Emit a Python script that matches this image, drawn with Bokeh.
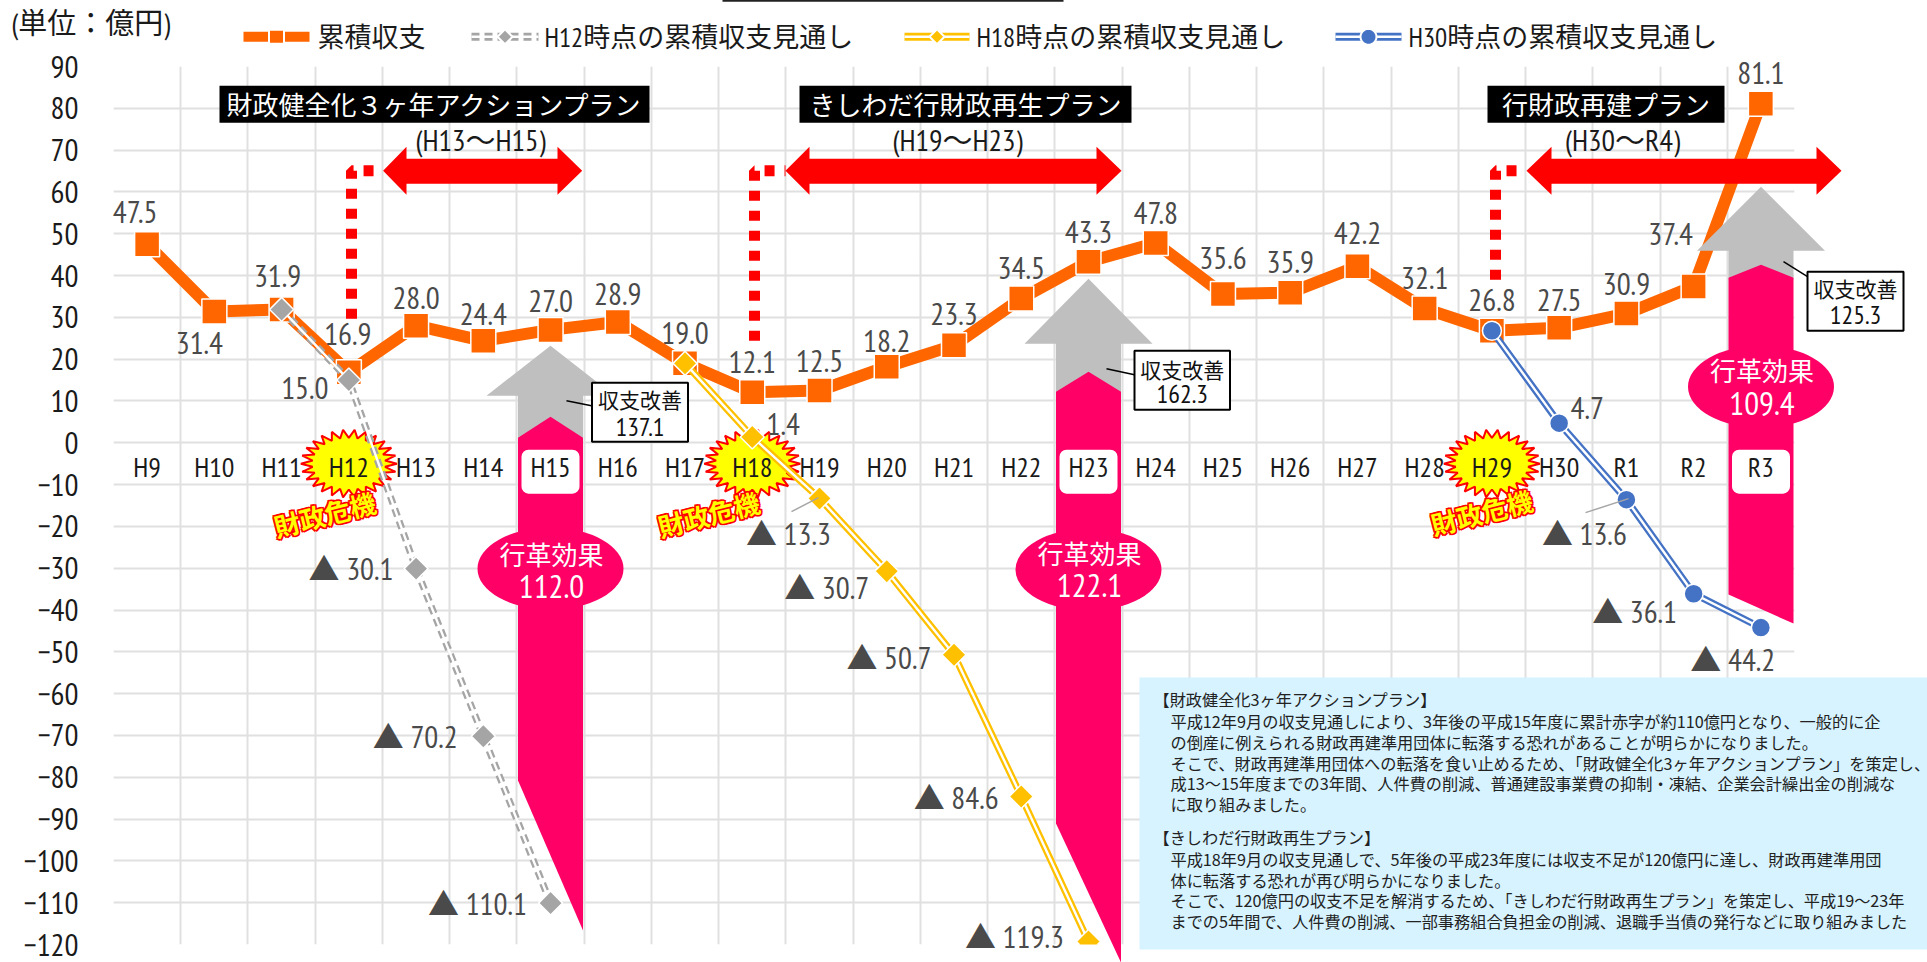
import math
from bokeh.embed import file_html
from bokeh.resources import INLINE
from bokeh.core.properties import value
from bokeh.models import FixedTicker
from bokeh.plotting import figure

# ---------- data ----------
categories = ["H9","H10","H11","H12","H13","H14","H15","H16","H17","H18","H19","H20","H21",
              "H22","H23","H24","H25","H26","H27","H28","H29","H30","R1","R2","R3"]
y_ticks = list(range(-120, 100, 10))
cum_balance = [47.5,31.4,31.9,16.9,28.0,24.4,27.0,28.9,19.0,12.1,12.5,18.2,23.3,34.5,43.3,47.8,
               35.6,35.9,42.2,32.1,26.8,27.5,30.9,37.4,81.1]
h12_cats = ["H11","H12","H13","H14","H15"]
h12_vals = [31.9,15.0,-30.1,-70.2,-110.1]
h18_cats = ["H17","H18","H19","H20","H21","H22","H23"]
h18_vals = [19.0,1.4,-13.3,-30.7,-50.7,-84.6,-119.3]
h30_cats = ["H29","H30","R1","R2","R3"]
h30_vals = [26.8,4.7,-13.6,-36.1,-44.2]
series_names = ["累積収支","H12時点の累積収支見通し","H18時点の累積収支見通し","H30時点の累積収支見通し"]
plan_titles = ["財政健全化３ヶ年アクションプラン","きしわだ行財政再生プラン","行財政再建プラン"]
plan_terms = ["(H13～H15)","(H19～H23)","(H30～R4)"]
improve_vals = ["137.1","162.3","125.3"]
reform_vals = ["112.0","122.1","109.4"]
note_lines = [
    "【財政健全化3ヶ年アクションプラン】",
    "平成12年9月の収支見通しにより、3年後の平成15年度に累計赤字が約110億円となり、一般的に企",
    "の倒産に例えられる財政再建準用団体に転落する恐れがあることが明らかになりました。",
    "そこで、財政再建準用団体への転落を食い止めるため、「財政健全化3ヶ年アクションプラン」を策定し、",
    "成13～15年度までの3年間、人件費の削減、普通建設事業費の抑制・凍結、企業会計繰出金の削減な",
    "に取り組みました。",
    "【きしわだ行財政再生プラン】",
    "平成18年9月の収支見通しで、5年後の平成23年度には収支不足が120億円に達し、財政再建準用団",
    "体に転落する恐れが再び明らかになりました。",
    "そこで、120億円の収支不足を解消するため、「きしわだ行財政再生プラン」を策定し、平成19～23年",
    "までの5年間で、人件費の削減、一部事務組合負担金の削減、退職手当債の発行などに取り組みました",
]

# ---------- layout ----------
L, R, T, B = 113.0, 1794.0, 65.7, 944.0      # plot frame in page pixels
W, H = 1927, 962
cw = (R - L) / len(categories)
vs = (B - T) / 210
def X(px): return (px - L) / cw - 0.5
def Y(py): return 90 - (py - T) / vs
def ci(names): return [categories.index(n) for n in names]

NARROW = "'PT Sans Narrow','Roboto Condensed','Archivo Narrow','Noto Sans CJK JP',sans-serif"
CJK = "'Noto Sans CJK JP',sans-serif"
ORANGE, GREY, GOLD, BLUE = "#FF6600", "#A5A5A5", "#FFC000", "#4472C4"
PINK, ARROW_GREY, RED = "#FF0066", "#BFBFBF", "#FF0000"
LABEL = "#4a4a4a"

p = figure(x_range=(-0.5, len(categories)-0.5), y_range=(-120, 90), width=W, height=H,
           toolbar_location=None, output_backend="svg", x_axis_location="above",
           min_border_left=int(L), min_border_right=int(W-R), min_border_top=int(round(T)),
           min_border_bottom=int(round(H-B)), outline_line_color=None,
           border_fill_color="white", background_fill_color="white")

ax = p.xaxis[0]
ax.ticker = FixedTicker(ticks=list(range(len(categories))))
ax.major_label_overrides = {i: c for i, c in enumerate(categories)}
ax.fixed_location = -12
ax.major_label_standoff = 2
ax.axis_line_color = None
ax.major_tick_line_color = None
ax.minor_tick_line_color = None
ax.major_label_text_font = NARROW
ax.major_label_text_font_size = "28px"
ax.major_label_text_color = "#1a1a1a"
ax.level = "overlay"

ay = p.yaxis[0]
ay.ticker = FixedTicker(ticks=y_ticks)
ay.axis_line_color = None
ay.major_tick_line_color = None
ay.minor_tick_line_color = None
ay.major_tick_in = 0
ay.major_tick_out = 0
ay.major_label_standoff = 35
ay.major_label_text_font = NARROW
ay.major_label_text_font_size = "31px"
ay.major_label_text_color = "#1a1a1a"

p.xgrid.ticker = FixedTicker(ticks=[i-0.5 for i in range(len(categories)+1)])
p.ygrid.ticker = FixedTicker(ticks=y_ticks)
for g in (p.xgrid[0], p.ygrid[0]):
    g.grid_line_color = "#e0e0e0"
    g.grid_line_width = 2

# ---------- bursts (under the series) ----------
def burst(cx, cy, rx=48, ry=34, n=26, inner=0.76):
    xs, ys = [], []
    for k in range(2*n):
        a = math.pi*k/n
        f = 1 if k % 2 == 0 else inner
        xs.append(X(cx + rx*f*math.cos(a)))
        ys.append(Y(cy + ry*f*math.sin(a)))
    p.patch(xs, ys, fill_color="#FFFF00", line_color=RED, line_width=2)

for c in ("H12", "H18", "H29"):
    burst(L + (categories.index(c)+0.5)*cw, 463)

# ---------- series ----------
xm = list(range(len(categories)))
p.line(xm, cum_balance, line_color=ORANGE, line_width=12)
p.scatter(xm, cum_balance, marker="square", size=25, fill_color=ORANGE, line_color="white", line_width=1.5)

def compound(xs, vals, color, marker, size, dash=None):
    kw = {"line_dash": dash} if dash else {}
    p.line(xs, vals, line_color=color, line_width=7, **kw)
    p.line(xs, vals, line_color="white", line_width=2.4)
    ang = math.pi/4 if marker == "square" else 0
    p.scatter(xs, vals, marker=marker, size=size, angle=ang, fill_color=color,
              line_color="white", line_width=1.5)

compound(ci(h12_cats), h12_vals, GREY, "square", 17, "8 5")
compound(ci(h18_cats), h18_vals, GOLD, "square", 17)
compound(ci(h30_cats), h30_vals, BLUE, "circle", 19)

# ---------- decorations ----------
def poly(px, py, color):
    p.patch([X(v) for v in px], [Y(v) for v in py], fill_color=color, line_color=None, level="annotation")

def box(x0, x1, y0, y1, fill, line=None, lw=0, radius=0):
    kw = {"border_radius": radius} if radius else {}
    p.quad(left=[X(x0)], right=[X(x1)], top=[Y(y0)], bottom=[Y(y1)], fill_color=fill,
           line_color=line, line_width=lw, level="annotation", **kw)

def text(tx, px, py, size, color="#1a1a1a", font=NARROW, align="center", angle=0, style="normal", outline=None):
    kw = {"text_outline_color": outline} if outline else {}
    p.text([X(px)], [Y(py)], text=[tx], text_font=value(font), text_font_size=f"{size}px",
           text_color=color, text_align=align, text_baseline="middle", angle=angle,
           text_font_style=style, level="overlay", **kw)

def reform_arrow(cx, tip, wing, pink_tip, shoulder, cut_l, cut_r, ell_y, txt_y, val_y, val):
    hs, hw = 32.5, 64
    poly([cx-hs, cx-hs, cx-hw, cx, cx+hw, cx+hs, cx+hs, cx],
         [shoulder+2, wing, wing, tip, wing, wing, shoulder+2, pink_tip+2], ARROW_GREY)
    poly([cx-hs, cx, cx+hs, cx+hs, cx-hs], [shoulder, pink_tip, shoulder, cut_r, cut_l], PINK)
    p.ellipse([X(cx)], [Y(ell_y)], width=146/cw, height=82/vs, fill_color=PINK, line_color=None, level="annotation")
    box(cx-29, cx+29, 449, 493, "white", radius=7)
    text("行革効果", cx+1, txt_y, 26, "white", font=CJK)
    text(val, cx+1, val_y, 33, "white")

reform_arrow(550, 345, 395, 416, 437, 780, 930, 568, 553, 586, reform_vals[0])
reform_arrow(1088, 278, 343, 371, 391, 823, 962, 569, 552, 585, reform_vals[1])
reform_arrow(1760.5, 186, 250, 264, 277, 594, 623, 386, 369, 403, reform_vals[2])

def callout(x0, x1, y0, y1, t1, t2, lead, val):
    p.line([X(lead[0]), X(lead[2])], [Y(lead[1]), Y(lead[3])], line_color="black", line_width=1.5, level="annotation")
    box(x0, x1, y0, y1, "white", "black", 2)
    text("収支改善", (x0+x1)/2, t1, 21, "#111111", font=CJK)
    text(val, (x0+x1)/2, t2, 26, "#111111")

callout(591.5, 687.5, 382, 441, 398, 426, (566, 400, 591, 405), improve_vals[0])
callout(1134, 1229.5, 350, 409, 368, 393, (1106, 368, 1134, 374), improve_vals[1])
callout(1807, 1903, 271, 330, 287, 314, (1783, 261, 1807, 276), improve_vals[2])

def red_arrow(x0, x1, h0, h1):
    my = 170
    poly([x0, h0, h0, h1, h1, x1, h1, h1, h0, h0],
         [my, 146, 158, 158, 146, my, 194, 183, 183, 194], RED)

red_arrow(382.6, 581.7, 406, 557)
red_arrow(785, 1121, 809, 1096)
red_arrow(1526, 1841, 1551, 1816)

for vx, bot, ex in ((351, 318, 382), (754, 340, 785), (1495, 279, 1526)):
    p.line([X(vx), X(vx), X(ex)], [Y(bot), Y(170), Y(170)], line_color=RED, line_width=11,
           line_dash="10 10", level="annotation")

plan_boxes = [(219, 649, 434), (799, 1131, 965), (1487, 1724, 1605.5)]
for (x0, x1, cx), title in zip(plan_boxes, plan_titles):
    box(x0, x1, 85, 122, "black")
    text(title, cx, 103, 26, "white", font=CJK)
for cx, term in zip((480, 957, 1622), plan_terms):
    text(term, cx, 139, 30, "#1a1a1a")

for tx_x, tx_y in ((324, 513), (708, 513), (1481, 511)):
    for ox, oy in ((-1, -1), (1, -1), (-1, 1), (1, 1)):
        text("財政危機", tx_x+ox, tx_y+oy, 26, RED, font=CJK, angle=0.25, style="bold", outline=RED)
    text("財政危機", tx_x, tx_y, 26, "#FFFF00", font=CJK, angle=0.25, style="bold")

for a, b in (((818, 497), (791, 511)), ((1628, 498), (1585, 512))):
    p.line([X(a[0]), X(b[0])], [Y(a[1]), Y(b[1])], line_color="#A6A6A6", line_width=1.5, level="annotation")

# clipped rule at the very top of the page
box(722, 1063, -2, 1, "#222222")

# note panel
box(1139, 1935, 677, 949, "#D6F3FF")
note_y = [698, 720, 741, 762, 782, 803, 836, 858, 879, 899, 920]
note_x = [1153, 1170, 1170, 1170, 1170, 1170, 1153, 1170, 1170, 1170, 1170]
for t, ny, nx in zip(note_lines, note_y, note_x):
    text(t, nx, ny, 16.2, "#222222", font=CJK, align="left")

text("(単位：億円)", 11, 22, 29, "#1a1a1a", align="left")

# ---------- data labels ----------
main_off = [(-12,-32),(-15,31),(-4,-33),(-1,-38),(0,-28),(0,-27),(0,-29),(0,-28),(0,-30),(0,-30),(0,-30),
            (0,-26),(0,-31),(0,-31),(0,-30),(0,-30),(0,-36),(0,-31),(0,-33),(0,-31),(0,-31),(0,-28),(0,-30),
            (-23,-52),(0,-31)]
def data_label(i, v, dx, dy, tx=None, align="center"):
    p.text([i], [v], text=[tx if tx else f"{abs(v):.1f}"], x_offset=dx, y_offset=dy,
           text_font=value(NARROW), text_font_size="31px", text_color=LABEL,
           text_align=align, text_baseline="middle", level="overlay")

for i, (v, (dx, dy)) in enumerate(zip(cum_balance, main_off)):
    data_label(i, v, dx, dy)

side_labels = [
    (h12_cats, h12_vals, {1: (-44, 8), 2: (-16, 0), 3: (-19, 0), 4: (-17, 0)}),
    (h18_cats, h18_vals, {1: (31, -13), 2: (18, 35), 3: (-11, 16), 4: (-16, 3), 5: (-16, 1), 6: (-18, -5)}),
    (h30_cats, h30_vals, {1: (28, -15), 2: (7, 34), 3: (-10, 18), 4: (21, 32)}),
]
for cats, vals, offs in side_labels:
    for k, (dx, dy) in offs.items():
        v = vals[k]
        i = categories.index(cats[k])
        if v < 0:
            data_label(i, v, dx, dy, f"▲  {abs(v):.1f}", "right")
        else:
            data_label(i, v, dx, dy)

# ---------- legend row ----------
LY = 36
def legend_marker(cx, xs, ys, color):
    p.patch([X(cx+v) for v in xs], [Y(LY+v) for v in ys], fill_color=color, line_color="white",
            line_width=2, level="overlay")

p.line([X(243), X(309)], [Y(LY)]*2, line_color=ORANGE, line_width=10, level="overlay")
legend_marker(276, [-7.5, 7.5, 7.5, -7.5], [-7, -7, 7, 7], ORANGE)
for (x0, x1), col, dash, shape in (((471, 538), GREY, "8 5", "d"),
                                   ((904, 969), GOLD, None, "d"),
                                   ((1335, 1401), BLUE, None, "c")):
    kw = {"line_dash": dash} if dash else {}
    p.line([X(x0), X(x1)], [Y(LY)]*2, line_color=col, line_width=8, level="overlay", **kw)
    p.line([X(x0), X(x1)], [Y(LY)]*2, line_color="white", line_width=2.6, level="overlay")
    cx = (x0 + x1) / 2
    if shape == "d":
        legend_marker(cx, [0, 7.5, 0, -7.5], [-7.5, 0, 7.5, 0], col)
    else:
        a = [2*math.pi*k/24 for k in range(24)]
        legend_marker(cx, [8*math.cos(t) for t in a], [8*math.sin(t) for t in a], col)
for name, tx in zip(series_names, (317, 544, 976, 1408)):
    text(name, tx, LY, 27, align="left")

open("out.html", "w").write(file_html(p, INLINE))
